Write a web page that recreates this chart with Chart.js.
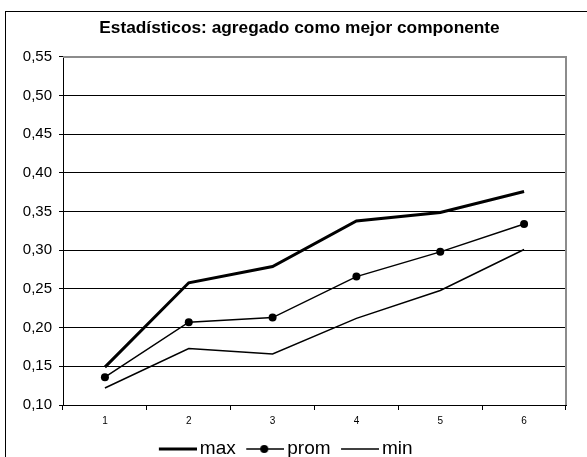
<!DOCTYPE html>
<html>
<head>
<meta charset="utf-8">
<script src="https://cdn.jsdelivr.net/npm/chart.js@4.4.1/dist/chart.umd.min.js"></script>
<style>
  html, body { margin: 0; padding: 0; background: #fff; }
  #chart { display: block; }
</style>
</head>
<body>
<canvas id="chart" width="587" height="457"></canvas>
<script>
// Categories on the x axis
const categories = ['1', '2', '3', '4', '5', '6'];

// Series values
const maxValues  = [0.149, 0.258, 0.279, 0.338, 0.349, 0.376];
const promValues = [0.136, 0.207, 0.213, 0.266, 0.298, 0.334];
const minValues  = [0.122, 0.173, 0.166, 0.212, 0.248, 0.301];

// Value axis range and step
const yMin = 0.10;
const yMax = 0.55;
const yStep = 0.05;

const FONT = 'Arial, "Liberation Sans", sans-serif';
Chart.defaults.font.family = FONT;
Chart.defaults.color = '#000';

// Small canvases used as legend symbols: a line, optionally with a dot
function legendSymbol(lineWidth, withDot) {
  const c = document.createElement('canvas');
  c.width = 45;
  c.height = 12;
  const g = c.getContext('2d');
  g.strokeStyle = '#000';
  g.lineWidth = lineWidth;
  g.beginPath();
  g.moveTo(7, 6);
  g.lineTo(45, 6);
  g.stroke();
  if (withDot) {
    g.fillStyle = '#000';
    g.beginPath();
    g.arc(25, 6, 4, 0, Math.PI * 2);
    g.fill();
  }
  return c;
}
const symbols = [legendSymbol(3, false), legendSymbol(1.5, true), legendSymbol(1.5, false)];

// Outer frame of the chart object
const framePlugin = {
  id: 'frame',
  beforeDraw(chart) {
    const ctx = chart.ctx;
    ctx.save();
    ctx.strokeStyle = '#000';
    ctx.lineWidth = 1;
    ctx.strokeRect(5.5, 11.5, 800, 800);
    ctx.restore();
  }
};

// Grey top and right edges of the plot area
const plotEdgePlugin = {
  id: 'plotEdge',
  beforeDatasetsDraw(chart) {
    const { ctx, chartArea: a } = chart;
    ctx.save();
    ctx.strokeStyle = '#8c8c8c';
    ctx.lineWidth = 2;
    ctx.beginPath();
    ctx.moveTo(a.left, a.top);
    ctx.lineTo(a.right, a.top);
    ctx.lineTo(a.right, a.bottom);
    ctx.stroke();
    ctx.restore();
  }
};

// Title sits a little right of the layout centre, legend a little left
const blockShiftPlugin = {
  id: 'blockShift',
  afterLayout(chart) {
    if (chart.titleBlock) {
      chart.titleBlock.left += 7.5;
      chart.titleBlock.right += 7.5;
    }
    if (chart.legend) {
      chart.legend.left -= 6.5;
      chart.legend.right -= 6.5;
    }
  }
};

new Chart(document.getElementById('chart'), {
  type: 'line',
  data: {
    labels: categories,
    datasets: [
      {
        label: 'max',
        data: maxValues,
        borderColor: '#000',
        backgroundColor: '#000',
        borderWidth: 3,
        pointRadius: 0,
        tension: 0
      },
      {
        label: 'prom',
        data: promValues,
        borderColor: '#000',
        backgroundColor: '#000',
        borderWidth: 1.5,
        pointRadius: 4,
        pointBackgroundColor: '#000',
        pointBorderWidth: 0,
        tension: 0
      },
      {
        label: 'min',
        data: minValues,
        borderColor: '#000',
        backgroundColor: '#000',
        borderWidth: 1.5,
        pointRadius: 0,
        tension: 0
      }
    ]
  },
  options: {
    responsive: false,
    animation: false,
    devicePixelRatio: 1,
    layout: { padding: { left: 18, right: 21, top: 0, bottom: -11.5 } },
    plugins: {
      title: {
        display: true,
        text: 'Estadísticos: agregado como mejor componente',
        color: '#000',
        font: { size: 17.3, weight: 'bold', family: FONT, lineHeight: 1.2 },
        padding: { top: 17.6, bottom: 18.6 }
      },
      legend: {
        display: true,
        position: 'bottom',
        labels: {
          usePointStyle: true,
          pointStyleWidth: 32,
          padding: 10,
          color: '#000',
          font: { size: 19, family: FONT },
          generateLabels(chart) {
            return chart.data.datasets.map((ds, i) => ({
              text: ds.label,
              pointStyle: symbols[i],
              datasetIndex: i,
              hidden: false,
              fontColor: '#000',
              lineWidth: 0,
              strokeStyle: 'rgba(0,0,0,0)',
              fillStyle: 'rgba(0,0,0,0)'
            }));
          }
        }
      },
      tooltip: { enabled: false }
    },
    scales: {
      x: {
        type: 'category',
        offset: true,
        grid: {
          display: true,
          offset: true,
          drawOnChartArea: false,
          drawTicks: true,
          tickLength: 5,
          color: '#000',
          lineWidth: 1
        },
        border: { display: true, color: '#000', width: 1 },
        ticks: {
          color: '#000',
          font: { size: 10, family: FONT },
          padding: 5,
          maxRotation: 0,
          autoSkip: false
        },
        afterFit(scale) { scale.height = 24.5; }
      },
      y: {
        min: yMin,
        max: yMax,
        grid: {
          display: true,
          drawTicks: true,
          tickLength: 4,
          color: '#000',
          lineWidth: 1
        },
        border: { display: true, color: '#000', width: 1 },
        ticks: {
          stepSize: yStep,
          color: '#000',
          font: { size: 15, family: FONT },
          padding: 7,
          callback: (v) => Number(v).toFixed(2).replace('.', ',')
        },
        afterFit(scale) { scale.width = 45; }
      }
    }
  },
  plugins: [framePlugin, plotEdgePlugin, blockShiftPlugin]
});
</script>
</body>
</html>
